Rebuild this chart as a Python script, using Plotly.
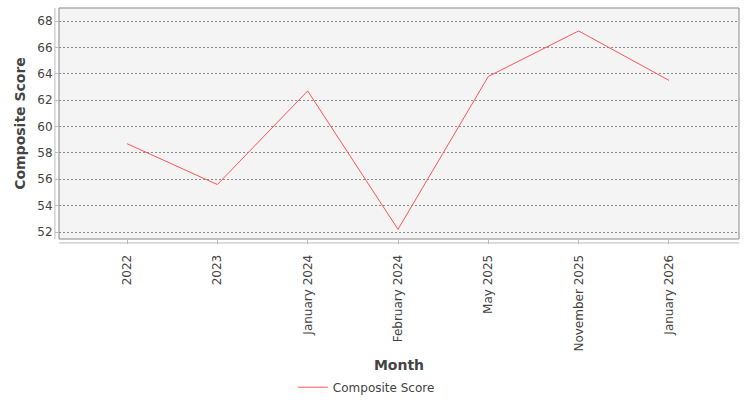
import plotly.graph_objects as go

months = ["2022", "2023", "January 2024", "February 2024", "May 2025", "November 2025", "January 2026"]
scores = [58.7, 55.6, 62.7, 52.2, 63.8, 67.25, 63.5]
y_ticks = [52, 54, 56, 58, 60, 62, 64, 66, 68]

FONT = "DejaVu Sans"

fig = go.Figure()
fig.add_trace(go.Scatter(
    x=list(range(len(months))), y=scores, mode="lines", name="Composite Score",
    line=dict(color="#FF5555", width=1),
))

fig.update_layout(
    width=750, height=400,
    margin=dict(l=59, r=11, t=8, b=161, autoexpand=False),
    paper_bgcolor="white", plot_bgcolor="#F4F4F4",
    font=dict(family=FONT, size=12, color="#444444"),
    showlegend=True,
    legend=dict(orientation="h", x=0.452, xanchor="center", yref="container", y=0.032, yanchor="middle",
                font=dict(size=12, color="#444444"), itemwidth=30),
    xaxis=dict(
        tickmode="array", tickvals=list(range(len(months))), ticktext=months,
        range=[-0.753, 6.775], tickangle=-90, showgrid=False, zeroline=False,
        ticks="outside", ticklen=4, tickcolor="#BBBBBB", ticklabelstandoff=6,
        title=dict(text="<b>Month</b>", font=dict(size=14, color="#444444"), standoff=14),
        showline=False, mirror=False,
    ),
    yaxis=dict(
        tickvals=y_ticks, range=[51.47, 68.99], showgrid=True, gridcolor="#8A8A8A",
        griddash="2px,2px", gridwidth=1, zeroline=False,
        ticks="outside", ticklen=3, tickcolor="#BBBBBB",
        title=dict(text="<b>Composite Score</b>", font=dict(size=14, color="#444444"), standoff=8),
    ),
    shapes=[
        dict(type="rect", xref="paper", yref="paper", x0=0, x1=1, y0=0, y1=1,
             line=dict(color="#888888", width=1), fillcolor="rgba(0,0,0,0)"),
        dict(type="line", xref="paper", yref="paper", x0=0, x1=1, y0=-0.017, y1=-0.017,
             line=dict(color="#BBBBBB", width=1)),
        dict(type="line", xref="paper", yref="paper", x0=-0.006, x1=-0.006, y0=0, y1=1,
             line=dict(color="#BBBBBB", width=1)),
    ],
)

fig.write_html("out.html")
